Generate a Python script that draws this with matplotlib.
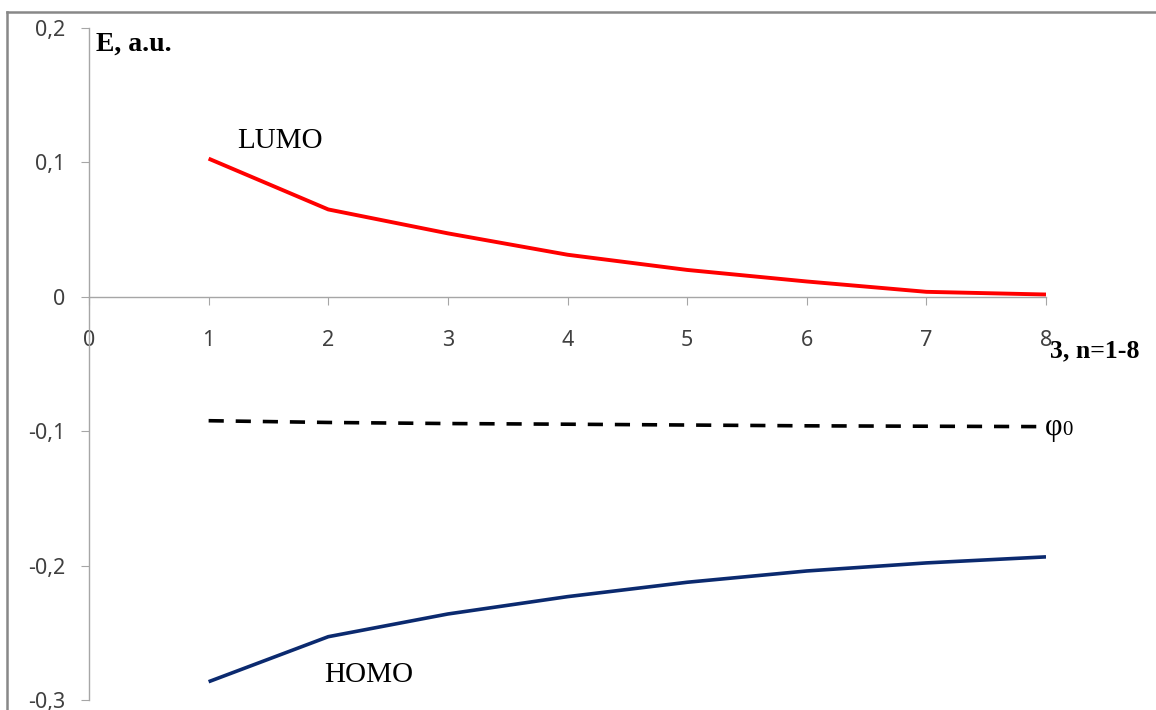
import matplotlib.pyplot as plt
from matplotlib.lines import Line2D

# chain length n
n = [1, 2, 3, 4, 5, 6, 7, 8]
lumo = [0.1028, 0.0650, 0.0472, 0.0313, 0.0200, 0.0114, 0.0037, 0.0017]
phi0 = [-0.0922, -0.0935, -0.0943, -0.0948, -0.0954, -0.0960, -0.0963, -0.0966]
homo = [-0.2864, -0.2529, -0.2360, -0.2231, -0.2124, -0.2040, -0.1980, -0.1935]

y_ticks = [0.2, 0.1, 0, -0.1, -0.2, -0.3]
y_labels = ["0,2", "0,1", "0", "-0,1", "-0,2", "-0,3"]
x_ticks = [0, 1, 2, 3, 4, 5, 6, 7, 8]

W, H = 1156, 710
fig = plt.figure(figsize=(W / 100, H / 100), dpi=100)
ax = fig.add_axes([89 / W, 10 / H, (1046 - 89) / W, (700 - 28) / H])

ax.plot(n, lumo, color="#ff0000", lw=2.8, solid_capstyle="butt")
ax.plot(n, homo, color="#0b2a6f", lw=2.6, solid_capstyle="butt")
ax.plot(n, phi0, color="black", lw=2.6, dashes=(4.2, 3.3))

ax.set_xlim(0, 8)
ax.set_ylim(-0.3, 0.2)

# axes styling, excel-like
for s in ["top", "right"]:
    ax.spines[s].set_visible(False)
ax.spines["bottom"].set_position(("data", 0))
for s in ["left", "bottom"]:
    ax.spines[s].set_color("#a6a6a6")
    ax.spines[s].set_linewidth(1.0)

ax.set_yticks(y_ticks)
ax.set_yticklabels(y_labels)
ax.set_xticks(x_ticks)
ax.tick_params(axis="y", direction="out", length=6, color="#a6a6a6", pad=11,
               labelsize=15.5, labelcolor="#404040")
ax.tick_params(axis="x", direction="out", length=6, color="#a6a6a6", pad=18,
               labelsize=15.5, labelcolor="#404040")
for lab in ax.get_xticklabels() + ax.get_yticklabels():
    lab.set_family("Noto Sans")

serif = "Liberation Serif"
ax.text(0.06, 0.183, "E, a.u.", family=serif, weight="bold", fontsize=20,
        va="baseline", ha="left", clip_on=False)
ax.text(1.24, 0.1107, "LUMO", family=serif, fontsize=21, va="baseline", ha="left")
ax.text(1.97, -0.2864, "HOMO", family=serif, fontsize=21, va="baseline", ha="left")
ax.text(8.03, -0.0448, "3, n=1-8", family=serif, weight="bold", fontsize=18.5,
        va="baseline", ha="left", clip_on=False)
ax.text(7.99, -0.1025, "φ", family=serif, fontsize=22, va="baseline", ha="left", clip_on=False)
ax.text(8.135, -0.1025, "0", family=serif, fontsize=15, va="baseline", ha="left", clip_on=False)

# grey frame around the chart area
fig.add_artist(Line2D([7 / W, 1], [1 - 12 / H, 1 - 12 / H], color="#888888", lw=1.8,
                      transform=fig.transFigure))
fig.add_artist(Line2D([7 / W, 7 / W], [0, 1 - 12 / H], color="#888888", lw=1.8,
                      transform=fig.transFigure))

fig.savefig("out.png", dpi=100)
